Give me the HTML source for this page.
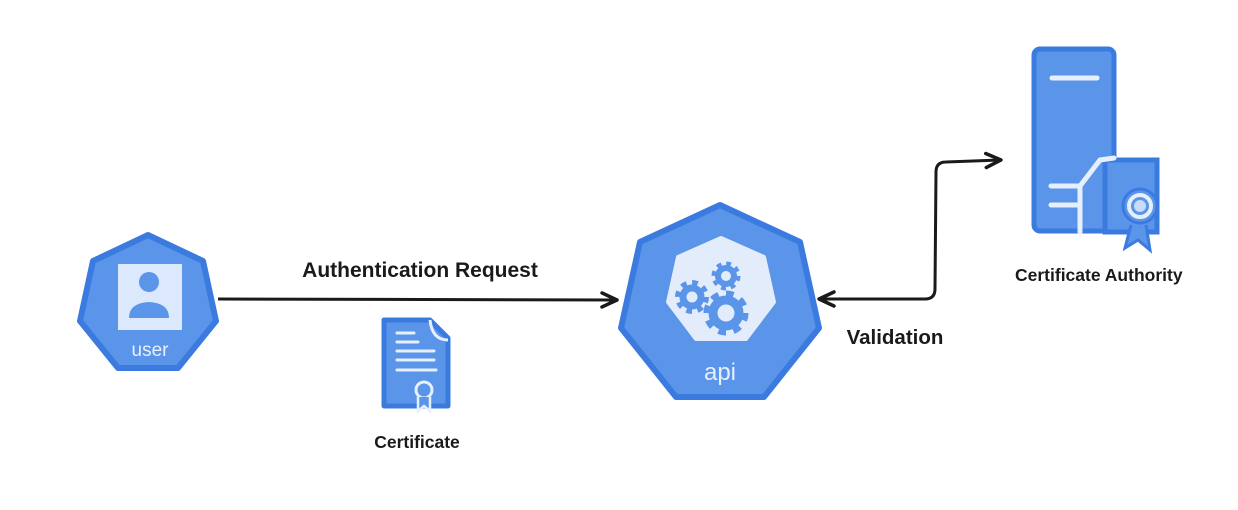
<!DOCTYPE html>
<html><head><style>
html,body{margin:0;padding:0;background:#fff;}
svg{display:block}
text{font-family:"Liberation Sans",sans-serif;font-weight:bold;fill:#1a1a1a}
</style></head><body>
<svg width="1238" height="510" viewBox="0 0 1238 510">
<defs>
<marker id="ah2" markerWidth="20" markerHeight="20" refX="16" refY="10" orient="auto-start-reverse" markerUnits="userSpaceOnUse">
<path d="M2,3 L17,10 L2,17" fill="none" stroke="#1a1a1a" stroke-width="3.5" stroke-linecap="round" stroke-linejoin="round"/>
</marker>
</defs>
<!-- user -->
<polygon points="148,235 203,261 216,321 178,368 118,368 80,321 93,261" fill="#5a95ea" stroke="#3b7be0" stroke-width="6" stroke-linejoin="round"/>
<rect x="118" y="264" width="64" height="66" fill="#dce8fb"/>
<circle cx="149" cy="282" r="10" fill="#5a95ea"/>
<path d="M129,318 Q129,303 149,302 Q169,303 169,318 Z" fill="#5a95ea"/>
<text x="150" y="356" text-anchor="middle" font-size="19" style="fill:#e6effc;font-weight:normal">user</text>
<!-- arrow 1 -->
<path d="M218,299 L616,300" stroke="#1a1a1a" stroke-width="3" fill="none" marker-end="url(#ah2)"/>
<text x="420" y="277" text-anchor="middle" font-size="21">Authentication Request</text>
<!-- certificate -->
<path d="M384,320 L430,320 L448,338 L448,406 L384,406 Z" fill="#5a95ea" stroke="#3b7be0" stroke-width="5" stroke-linejoin="round"/>
<path d="M430,320 Q432,340 448,340" fill="none" stroke="#e6effc" stroke-width="3"/>
<g stroke="#e6effc" stroke-width="3" stroke-linecap="round">
<line x1="397" y1="333" x2="414" y2="333"/><line x1="397" y1="342" x2="418" y2="342"/>
<line x1="397" y1="351" x2="434" y2="351"/><line x1="397" y1="360" x2="434" y2="360"/>
<line x1="397" y1="370" x2="436" y2="370"/>
</g>
<circle cx="424" cy="390" r="8" fill="#5a95ea" stroke="#e6effc" stroke-width="3"/>
<path d="M418,397 L418,411 L424,406 L430,411 L430,397" fill="#5a95ea" stroke="#e6effc" stroke-width="2.5"/>
<text x="417" y="448" text-anchor="middle" font-size="17.5">Certificate</text>
<!-- api -->
<polygon points="720,205 800,242 819,328 764,397 676,397 621,328 640,242" fill="#5a95ea" stroke="#3b7be0" stroke-width="6" stroke-linejoin="round"/>
<polygon points="721,238 764,257 774,302 746,339 696,339 668,302 678,257" fill="#e3ecfb" stroke="#e3ecfb" stroke-width="4" stroke-linejoin="round"/>
<g fill="none" stroke="#5a95ea">
<circle cx="726" cy="276" r="8" stroke-width="6"/>
<circle cx="726" cy="276" r="12" stroke-width="5" stroke-dasharray="4.7 4.7"/>
<circle cx="692" cy="297" r="9" stroke-width="7"/>
<circle cx="692" cy="297" r="14" stroke-width="6" stroke-dasharray="5.5 5.5"/>
<circle cx="726" cy="313" r="13" stroke-width="9"/>
<circle cx="726" cy="313" r="19" stroke-width="7" stroke-dasharray="7.5 7.4"/>
</g>
<text x="720" y="380" text-anchor="middle" font-size="24" style="fill:#e6effc;font-weight:normal">api</text>
<!-- validation arrow -->
<path d="M820,299 L925,299 Q935,299 935,289 L936,172 Q936,162 946,162 L1000,160" stroke="#1a1a1a" stroke-width="3" fill="none" marker-start="url(#ah2)" marker-end="url(#ah2)"/>
<text x="895" y="344" text-anchor="middle" font-size="20.5">Validation</text>
<!-- CA -->
<rect x="1034" y="49" width="80" height="182" rx="6" fill="#5a95ea" stroke="#3b7be0" stroke-width="5"/>
<line x1="1052" y1="78" x2="1097" y2="78" stroke="#e6effc" stroke-width="5" stroke-linecap="round"/>
<rect x="1105" y="160" width="52" height="72" fill="#5a95ea" stroke="#3b7be0" stroke-width="5"/>
<path d="M1051,186 L1080,186 L1100,160 L1114,158 M1051,205 L1078,205 M1080,186 L1080,232" fill="none" stroke="#e6effc" stroke-width="5" stroke-linecap="round"/>
<path d="M1131,225 L1125,248 L1138,240 L1150,250 L1146,225" fill="#5a95ea" stroke="#3b7be0" stroke-width="3"/>
<circle cx="1140" cy="206" r="17" fill="#5a95ea" stroke="#3b7be0" stroke-width="3"/>
<circle cx="1140" cy="206" r="11" fill="#5a95ea" stroke="#e6effc" stroke-width="4"/>
<circle cx="1140" cy="206" r="6" fill="#c8dcf8"/>
<text x="1015" y="281" font-size="17.5">Certificate Authority</text>
</svg>
</body></html>
